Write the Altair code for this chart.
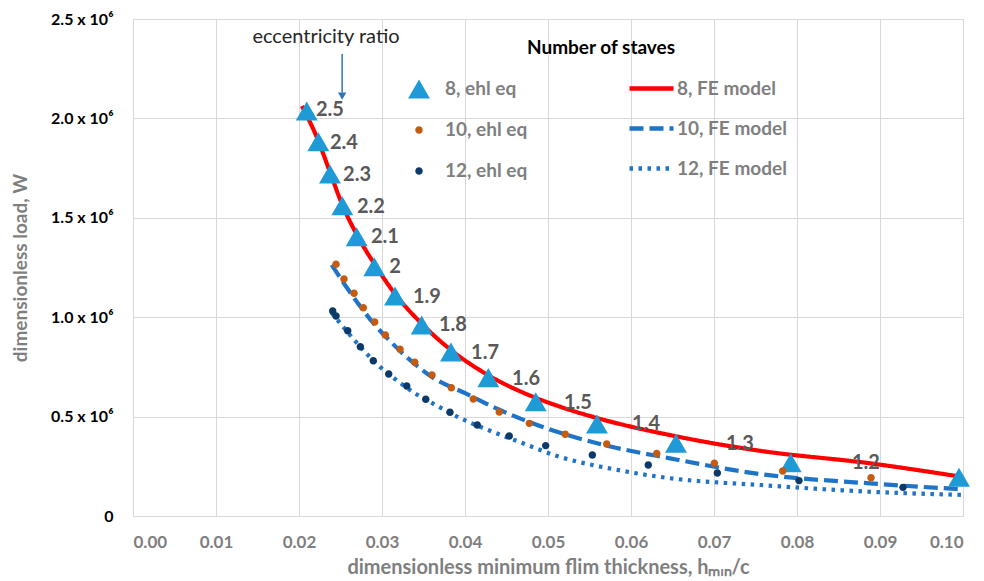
import altair as alt
import pandas as pd

# ---------------- data ----------------
# 8 staves, ehl equation (triangles)
tri_x = [0.02093, 0.02233, 0.02373, 0.02522, 0.02695, 0.02907, 0.03157, 0.03478,
         0.03831, 0.04281, 0.04852, 0.05590, 0.06542, 0.07924, 0.09952]
tri_y = [2.037, 1.883, 1.720, 1.561, 1.405, 1.254, 1.107, 0.961,
         0.825, 0.696, 0.575, 0.463, 0.366, 0.268, 0.195]  # x 1e6

# 10 staves, ehl equation
o_x = [0.02446, 0.02542, 0.02663, 0.02775, 0.02912, 0.03040, 0.03217, 0.03394, 0.03602,
       0.03835, 0.04100, 0.04413, 0.04775, 0.05208, 0.05707, 0.06310, 0.07004, 0.07828, 0.08892]
o_y = [1.266, 1.192, 1.120, 1.048, 0.976, 0.910, 0.839, 0.773, 0.709,
       0.645, 0.589, 0.523, 0.466, 0.411, 0.362, 0.315, 0.265, 0.226, 0.193]

# 12 staves, ehl equation
n_x = [0.02406, 0.02446, 0.02587, 0.02739, 0.02895, 0.03081, 0.03298, 0.03527, 0.03819,
       0.04148, 0.04533, 0.04972, 0.05534, 0.06208, 0.07040, 0.08024, 0.09277]
n_y = [1.031, 1.006, 0.932, 0.851, 0.781, 0.714, 0.654, 0.587, 0.522,
       0.458, 0.402, 0.354, 0.307, 0.257, 0.216, 0.178, 0.144]

# FE model curves
fe8_x = [0.02036, 0.02229, 0.02373, 0.02518, 0.02699, 0.02916, 0.03157, 0.03470, 0.03831,
         0.04277, 0.04855, 0.05145, 0.05590, 0.06470, 0.07554, 0.08880, 0.10000]
fe8_y = [2.062, 1.891, 1.730, 1.569, 1.413, 1.263, 1.117, 0.971, 0.835,
         0.709, 0.594, 0.550, 0.493, 0.407, 0.328, 0.265, 0.196]
fe10_x = [0.02394, 0.02554, 0.02735, 0.02916, 0.03096, 0.03337, 0.03602, 0.04020,
          0.04422, 0.04984, 0.05627, 0.06470, 0.07554, 0.08880, 0.10000]
fe10_y = [1.263, 1.162, 1.056, 0.960, 0.880, 0.785, 0.699, 0.614,
          0.533, 0.441, 0.362, 0.290, 0.211, 0.164, 0.134]
fe12_x = [0.02394, 0.02514, 0.02635, 0.02807, 0.02976, 0.03157, 0.03373, 0.03627, 0.03940,
          0.04277, 0.04627, 0.05145, 0.05783, 0.06470, 0.07554, 0.08880, 0.10000]
fe12_y = [1.021, 0.961, 0.900, 0.820, 0.750, 0.689, 0.624, 0.563, 0.493,
          0.433, 0.377, 0.297, 0.236, 0.190, 0.156, 0.122, 0.106]

# eccentricity-ratio data labels
ecc_text = ["2.5", "2.4", "2.3", "2.2", "2.1", "2", "1.9", "1.8", "1.7", "1.6",
            "1.5", "1.4", "1.3", "1.2"]
ecc_x = [0.02373, 0.02542, 0.02699, 0.02867, 0.03036, 0.03157, 0.03542, 0.03855,
         0.04241, 0.04735, 0.05361, 0.06181, 0.07313, 0.08831]
ecc_y = [2.042, 1.876, 1.715, 1.556, 1.403, 1.253, 1.103, 0.961, 0.821, 0.689,
         0.568, 0.465, 0.362, 0.267]

pt_series = ["8, ehl eq", "10, ehl eq", "12, ehl eq"]
fe_series = ["8, FE model", "10, FE model", "12, FE model"]
x_ticks = [0.0, 0.01, 0.02, 0.03, 0.04, 0.05, 0.06, 0.07, 0.08, 0.09, 0.10]
y_ticks = [0, 500000, 1000000, 1500000, 2000000, 2500000]

# annotation ("eccentricity ratio" with arrow) and legend heading, in data units
ann_text = ["eccentricity ratio"]
ann_x = [0.02325]
ann_y = [2.409]
arrow_x = [0.0252]
arrow_y = [2.324]
arrow_y2 = [2.130]
head_y = [2.112]
heading_text = ["Number of staves"]
heading_x = [0.05639]
heading_y = [2.354]

FONT = "Lato"
GRAY = "#7f7f7f"
RED = "#ff0000"
BLUE = "#1f74c8"
TRI = "#1e9bd7"
ORANGE = "#c55a11"
NAVY = "#0b3a6a"

TRI_PATH = "M0,-0.87L1,0.87L-1,0.87Z"
DOT_PATH = "M-0.34,0A0.34,0.34,0,1,0,0.34,0A0.34,0.34,0,1,0,-0.34,0Z"

# ---------------- tables ----------------
pts = pd.DataFrame({
    "x": tri_x + o_x + n_x,
    "y": [v * 1e6 for v in tri_y + o_y + n_y],
    "series": [pt_series[0]] * len(tri_x) + [pt_series[1]] * len(o_x) + [pt_series[2]] * len(n_x),
})
lines = pd.DataFrame({
    "x": fe8_x + fe10_x + fe12_x,
    "y": [v * 1e6 for v in fe8_y + fe10_y + fe12_y],
    "model": [fe_series[0]] * len(fe8_x) + [fe_series[1]] * len(fe10_x) + [fe_series[2]] * len(fe12_x),
})
labels = pd.DataFrame({"x": ecc_x, "y": [v * 1e6 for v in ecc_y], "t": ecc_text})
ann = pd.DataFrame({"x": ann_x, "y": [v * 1e6 for v in ann_y], "t": ann_text})
arrow = pd.DataFrame({"x": arrow_x, "y": [v * 1e6 for v in arrow_y],
                      "y2": [v * 1e6 for v in arrow_y2], "yh": [v * 1e6 for v in head_y]})
heading = pd.DataFrame({"x": heading_x, "y": [v * 1e6 for v in heading_y], "t": heading_text})

xscale = alt.Scale(domain=[0, 0.1], nice=False)
yscale = alt.Scale(domain=[0, 2500000], nice=False)

x_axis = alt.Axis(
    values=x_ticks, format=".2f", grid=True, ticks=False, domain=False,
    gridColor="#d9d9d9", gridWidth=1,
    labelFont=FONT, labelFontSize=17, labelFontWeight="bold", labelColor=GRAY,
    labelPadding=18,
    title="dimensionless minimum flim thickness, hₘᵢₙ/c",
    titleFont=FONT, titleFontSize=20, titleFontWeight="bold", titleColor=GRAY,
    titlePadding=7,
)
y_axis = alt.Axis(
    values=y_ticks, grid=True, ticks=False, domain=False,
    gridColor="#d9d9d9", gridWidth=1,
    labelExpr="datum.value == 0 ? '0' : format(datum.value / 1000000, '.1f') + ' x 10⁶'",
    labelFont=FONT, labelFontSize=16, labelFontWeight="bold", labelColor="#000000",
    labelPadding=20,
    title="dimensionless load, W",
    titleFont=FONT, titleFontSize=19, titleFontWeight="bold", titleColor=GRAY,
    titlePadding=20,
)

X = alt.X("x:Q", scale=xscale, axis=x_axis)
Y = alt.Y("y:Q", scale=yscale, axis=y_axis)

leg_lines = alt.Legend(
    title=None, orient="none", legendX=494, legendY=45,
    symbolType="stroke", symbolSize=1936, symbolStrokeWidth=4.5,
    labelFont=FONT, labelFontSize=19, labelFontWeight="bold", labelColor=GRAY,
    labelOffset=1, rowPadding=5, padding=0,
)
leg_pts = alt.Legend(
    title=None, orient="none", legendX=274, legendY=58,
    labelFont=FONT, labelFontSize=19, labelFontWeight="bold", labelColor=GRAY,
    labelOffset=14, rowPadding=19, padding=0, symbolSize=480,
)

line_layer = alt.Chart(lines).mark_line(
    strokeWidth=4.2, strokeCap="butt", interpolate="monotone"
).encode(
    x=X, y=Y,
    color=alt.Color("model:N", scale=alt.Scale(domain=fe_series, range=[RED, BLUE, BLUE]),
                    legend=leg_lines),
    strokeDash=alt.StrokeDash("model:N",
                              scale=alt.Scale(domain=fe_series, range=[[1, 0], [14, 6], [3.5, 5.5]]),
                              legend=leg_lines),
)

point_layer = alt.Chart(pts).mark_point(filled=True, opacity=1, strokeWidth=0, size=480).encode(
    x=X, y=Y,
    color=alt.Color("series:N", scale=alt.Scale(domain=pt_series, range=[TRI, ORANGE, NAVY]),
                    legend=leg_pts),
    shape=alt.Shape("series:N",
                    scale=alt.Scale(domain=pt_series, range=[TRI_PATH, DOT_PATH, DOT_PATH]),
                    legend=leg_pts),
)

label_layer = alt.Chart(labels).mark_text(
    font=FONT, fontSize=20, fontWeight="bold", color="#595959", align="center", baseline="middle"
).encode(x=X, y=Y, text="t:N")

ann_layer = alt.Chart(ann).mark_text(
    font=FONT, fontSize=20, color="#262626", align="center", baseline="middle"
).encode(x=X, y=Y, text="t:N")

arrow_layer = alt.Chart(arrow).mark_rule(color="#2e75b6", strokeWidth=1.5).encode(
    x=X, y=Y, y2="y2:Q")
head_layer = alt.Chart(arrow).mark_point(
    shape="triangle-down", filled=True, color="#2e75b6", size=70, opacity=1
).encode(x=X, y=alt.Y("yh:Q", scale=yscale, axis=y_axis))

heading_layer = alt.Chart(heading).mark_text(
    font=FONT, fontSize=19, fontWeight="bold", color="#000000", align="center", baseline="middle"
).encode(x=X, y=Y, text="t:N")

chart = alt.layer(
    line_layer, point_layer, label_layer, ann_layer, arrow_layer, head_layer, heading_layer
).resolve_scale(
    color="independent", shape="independent", strokeDash="independent"
).properties(
    width=830, height=497,
    autosize=alt.AutoSizeParams(type="none"),
    padding={"left": 133, "top": 19, "right": 21, "bottom": 65},
    background="white",
).configure_view(stroke=None).configure(font=FONT)

chart.save("out.html", embed_options={"renderer": "svg", "actions": False})
